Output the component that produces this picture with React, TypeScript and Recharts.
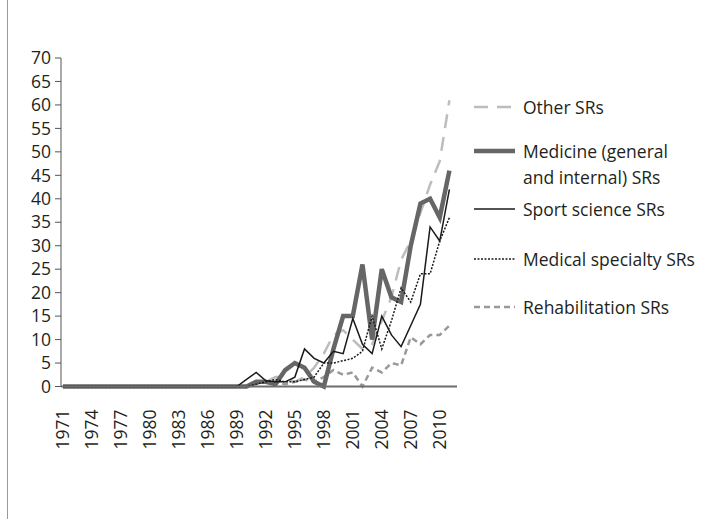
import React from "react";
import { LineChart, Line, XAxis, YAxis } from "recharts";

const years = [
  "1971","1972","1973","1974","1975","1976","1977","1978","1979","1980",
  "1981","1982","1983","1984","1985","1986","1987","1988","1989","1990",
  "1991","1992","1993","1994","1995","1996","1997","1998","1999","2000",
  "2001","2002","2003","2004","2005","2006","2007","2008","2009","2010","2011",
];

const otherSRs = [
  0,0,0,0,0,0,0,0,0,0, 0,0,0,0,0,0,0,0,0,
  0,1,1,2,2,1,2,4,7,11,12,10,8,9,14,19,27,31,37,43,48,61,
];
const medicineSRs = [
  0,0,0,0,0,0,0,0,0,0, 0,0,0,0,0,0,0,0,0,
  0,1,1,0.5,3.5,5,4,1,0,8,15,15,26,10,25,19,18,30,39,40,36,46,
];
const sportSRs = [
  0,0,0,0,0,0,0,0,0,0, 0,0,0,0,0,0,0,0,0,
  1.5,3,1.2,1,1,2,8,6,5,7.5,7,14.5,9,7,15,11,8.5,13,17.5,34,31,42,
];
const specialtySRs = [
  0,0,0,0,0,0,0,0,0,0, 0,0,0,0,0,0,0,0,0,
  0,0.5,1,1.5,1,1,1.5,2,5,5,5.5,6,7.5,15,8,14,21,18,24,24,31,36,
];
const rehabSRs = [
  0,0,0,0,0,0,0,0,0,0, 0,0,0,0,0,0,0,0,0,
  0,0.5,1,1,0.5,1,1.5,1,2,3.5,2.5,3,0,4,3,5,4.5,10.5,9,11,11,13,
];

const yTicks = [0, 5, 10, 15, 20, 25, 30, 35, 40, 45, 50, 55, 60, 65, 70];

const data = years.map((year, i) => ({
  year,
  other: otherSRs[i],
  medicine: medicineSRs[i],
  sport: sportSRs[i],
  specialty: specialtySRs[i],
  rehab: rehabSRs[i],
}));

const FONT = "'Open Sans', 'Noto Sans', sans-serif";
const TEXT = "#231f20";
const FS = 17.5;

const series = [
  { key: "other", name: "Other SRs", color: "#bdbdbd", width: 2.5, dash: "14 9", legendY: 107, lines: ["Other SRs"] },
  { key: "rehab", name: "Rehabilitation SRs", color: "#999999", width: 2.5, dash: "6 4", legendY: 307, lines: ["Rehabilitation SRs"] },
  { key: "medicine", name: "Medicine (general and internal) SRs", color: "#666666", width: 4.5, dash: undefined, legendY: 151, lines: ["Medicine (general", "and internal) SRs"] },
  { key: "sport", name: "Sport science SRs", color: "#1a1a1a", width: 1.5, dash: undefined, legendY: 209, lines: ["Sport science SRs"] },
  { key: "specialty", name: "Medical specialty SRs", color: "#1a1a1a", width: 1.5, dash: "2 1.5", legendY: 259, lines: ["Medical specialty SRs"] },
];

const XTick = (props: any) => {
  const { x, y, payload } = props;
  return (
    <text
      transform={`translate(${x + 6.2},${y + 15}) rotate(-90)`}
      textAnchor="end"
      fontFamily={FONT}
      fontSize={FS}
      fill={TEXT}
    >
      {payload.value}
    </text>
  );
};

export default function App() {
  return (
    <div style={{ position: "absolute", left: 0, top: 0, width: 706, height: 519, background: "#fff" }}>
      <div style={{ position: "absolute", left: 7, top: 0, width: 0, height: 519, borderLeft: "1px solid #9a9a9a" }} />
      <LineChart
        width={706}
        height={519}
        data={data}
        margin={{ top: 58, right: 249, bottom: 72.5, left: 0 }}
      >
        <XAxis
          dataKey="year"
          interval={2}
          tickLine={false}
          axisLine={{ stroke: "#6d6d6d", strokeWidth: 2 }}
          padding={{ left: 2, right: 7.6 }}
          height={60}
          tick={<XTick />}
        />
        <YAxis
          width={61}
          domain={[0, 70]}
          ticks={yTicks}
          interval={0}
          tickSize={6}
          tickMargin={4}
          axisLine={{ stroke: "#555" }}
          tickLine={{ stroke: "#555" }}
          tick={{ fontFamily: FONT, fontSize: FS, fill: TEXT }}
        />
        {series.map((s) => (
          <Line
            key={s.key}
            dataKey={s.key}
            name={s.name}
            stroke={s.color}
            strokeWidth={s.width}
            strokeDasharray={s.dash}
            dot={false}
            activeDot={false}
            type="linear"
            isAnimationActive={false}
          />
        ))}
      </LineChart>
      {series.map((s) => (
        <div key={s.key}>
          <svg style={{ position: "absolute", left: 472, top: s.legendY - 5, overflow: "visible" }} width={46} height={10}>
            <line x1={2} x2={43} y1={5} y2={5} stroke={s.color} strokeWidth={s.width} strokeDasharray={s.dash} />
          </svg>
          <div
            style={{
              position: "absolute",
              left: 523,
              top: s.legendY - 13,
              fontFamily: FONT,
              fontSize: FS,
              lineHeight: "26px",
              color: TEXT,
              whiteSpace: "nowrap",
            }}
          >
            {s.lines.map((l, i) => (
              <div key={i}>{l}</div>
            ))}
          </div>
        </div>
      ))}
    </div>
  );
}
